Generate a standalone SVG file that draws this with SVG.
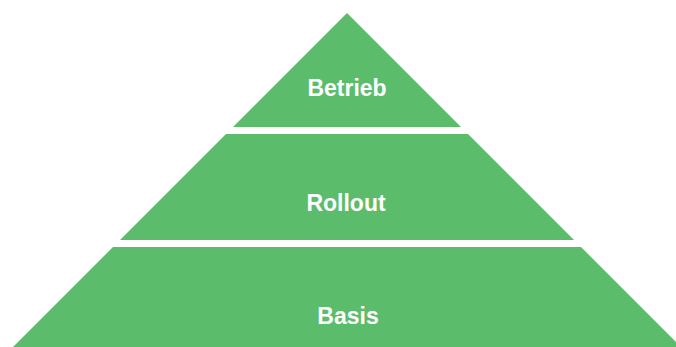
<svg xmlns="http://www.w3.org/2000/svg" width="676" height="347" viewBox="0 0 676 347">
<style>
.tier{fill:#5BBD6B;}
.lbl{font-family:"Liberation Sans",Arial,sans-serif;font-weight:bold;font-size:23px;fill:#FFFFFF;text-anchor:middle;}
</style>
<rect width="676" height="347" fill="#FFFFFF"/>
<g id="betrieb">
<polygon class="tier" points="347,13 461,127 233,127"/>
<text class="lbl" x="347" y="96">Betrieb</text>
</g>
<g id="rollout">
<polygon class="tier" points="226,134 468,134 574,240 120,240"/>
<text class="lbl" x="346" y="211">Rollout</text>
</g>
<g id="basis">
<polygon class="tier" points="113,247 581,247 681,347 13,347"/>
<text class="lbl" x="348" y="324">Basis</text>
</g>
<g id="connectors"></g>
</svg>
